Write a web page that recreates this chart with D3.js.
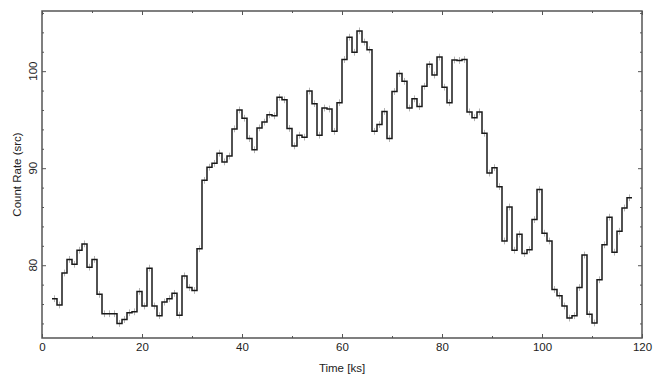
<!DOCTYPE html>
<html>
<head>
<meta charset="utf-8">
<script src="https://cdn.jsdelivr.net/npm/d3@7"></script>
<style>
  body { margin: 0; background: #fff; }
  text { font-family: "Liberation Sans", Arial, sans-serif; }
</style>
</head>
<body>
<div id="canvas"></div>
<script>
"use strict"

/* light curve: 1 ks bins starting at 2 ks */
let binStart = 2;
let binWidth = 1;
let rates = [
  76.55, 75.9, 79.2, 80.6, 80.1, 81.55, 82.2, 79.8, 80.6, 77.0,
  75.0, 75.0, 75.0, 74.0, 74.4, 75.1, 75.2, 77.3, 75.8, 79.7,
  75.8, 74.8, 76.2, 76.55, 77.1, 74.85, 78.9, 77.7, 77.4, 81.7,
  88.75, 90.1, 90.5, 91.55, 90.65, 91.25, 94.05, 96.0, 95.15, 93.05,
  91.9, 94.15, 94.75, 95.5, 95.4, 97.3, 97.05, 94.1, 92.3, 93.4,
  93.2, 97.95, 96.65, 93.4, 96.2, 96.1, 93.8, 96.75, 101.2, 103.5,
  101.95, 104.15, 103.0, 102.2, 93.8, 94.5, 95.85, 93.05, 97.9, 99.75,
  98.95, 96.2, 97.15, 96.35, 98.45, 100.7, 99.6, 101.45, 98.35, 96.75,
  101.15, 101.1, 101.2, 95.8, 95.2, 95.8, 93.6, 89.5, 90.05, 88.1,
  82.5, 86.0, 81.55, 83.2, 81.2, 81.6, 84.7, 87.8, 83.3, 82.5,
  77.5, 76.85, 75.8, 74.55, 74.8, 77.7, 81.05, 74.95, 74.05, 78.5,
  82.1, 84.95, 81.35, 83.5, 85.9, 86.95
];
let rateErr = 0.35;   // roughly the same size on every bin

let xMajor = [0, 20, 40, 60, 80, 100, 120];
let xMinor = [10, 30, 50, 70, 90, 110];
let yMajor = [80, 90, 100];
let yMinor = [74, 76, 78, 82, 84, 86, 88, 92, 94, 96, 98, 102, 104, 106];

let W = 662, H = 385;
let plotL = 42, plotR = 642, plotT = 11, plotB = 338;
let axisCol = "#555";
let textCol = "#222";

let drawing = d3.select("#canvas")
  .append("svg")
  .attr("width", W)
  .attr("height", H);

let x = d3.scaleLinear().domain([0, 120]).range([plotL, plotR]);
let y = d3.scaleLinear().domain([72.5, 106.2]).range([plotB, plotT]);

/* ---------- error bars (light grey) ---------- */
let bins = rates.map((v, i) => ({ t0: binStart + i * binWidth, v: v }));

drawing.append("g")
  .selectAll("line")
  .data(bins)
  .join("line")
  .attr("x1", d => x(d.t0 + binWidth / 2)).attr("x2", d => x(d.t0 + binWidth / 2))
  .attr("y1", d => y(d.v - rateErr)).attr("y2", d => y(d.v + rateErr))
  .attr("stroke", "#b4b4b4").attr("stroke-width", 1);

/* ---------- step line ---------- */
let stepPts = bins.map(d => [d.t0, d.v]);
let last = bins[bins.length - 1];
stepPts.push([last.t0 + binWidth, last.v]);

let stepLine = d3.line()
  .x(d => x(d[0]))
  .y(d => y(d[1]))
  .curve(d3.curveStepAfter);

drawing.append("path")
  .attr("d", stepLine(stepPts))
  .attr("fill", "none")
  .attr("stroke", "#1a1a1a")
  .attr("stroke-width", 1.5);

/* ---------- axes: ticks inward on all four sides ---------- */
function styleAxis(g) {
  g.select(".domain").remove();
  g.selectAll(".tick line").attr("stroke", axisCol).attr("stroke-width", 1);
  g.selectAll("text").attr("fill", textCol).style("font-size", "11.5px")
    .style("font-family", '"Liberation Sans", Arial, sans-serif');
}

drawing.append("g").attr("transform", `translate(0,${plotB})`)
  .call(d3.axisBottom(x).tickValues(xMajor).tickSize(-4).tickPadding(4.5).tickFormat(d3.format("d")))
  .call(styleAxis);
drawing.append("g").attr("transform", `translate(0,${plotB})`)
  .call(d3.axisBottom(x).tickValues(xMinor).tickSize(-2).tickFormat(""))
  .call(styleAxis);
drawing.append("g").attr("transform", `translate(0,${plotT})`)
  .call(d3.axisTop(x).tickValues(xMajor).tickSize(-4).tickFormat(""))
  .call(styleAxis);
drawing.append("g").attr("transform", `translate(0,${plotT})`)
  .call(d3.axisTop(x).tickValues(xMinor).tickSize(-2).tickFormat(""))
  .call(styleAxis);

drawing.append("g").attr("transform", `translate(${plotL},0)`)
  .call(d3.axisLeft(y).tickValues(yMajor).tickSize(-4).tickFormat(""))
  .call(styleAxis);
drawing.append("g").attr("transform", `translate(${plotL},0)`)
  .call(d3.axisLeft(y).tickValues(yMinor).tickSize(-2).tickFormat(""))
  .call(styleAxis);
drawing.append("g").attr("transform", `translate(${plotR},0)`)
  .call(d3.axisRight(y).tickValues(yMajor).tickSize(-4).tickFormat(""))
  .call(styleAxis);
drawing.append("g").attr("transform", `translate(${plotR},0)`)
  .call(d3.axisRight(y).tickValues(yMinor).tickSize(-2).tickFormat(""))
  .call(styleAxis);

/* rotated y tick labels */
drawing.append("g")
  .selectAll("text")
  .data(yMajor)
  .join("text")
  .attr("transform", d => `translate(36.5,${y(d)}) rotate(-90)`)
  .attr("text-anchor", "middle")
  .attr("fill", textCol)
  .style("font-size", "11.5px")
  .text(d => d);

/* frame */
drawing.append("rect")
  .attr("x", plotL).attr("y", plotT)
  .attr("width", plotR - plotL).attr("height", plotB - plotT)
  .attr("fill", "none")
  .attr("stroke", axisCol)
  .attr("stroke-width", 1.5);

/* titles */
drawing.append("text")
  .attr("x", (plotL + plotR) / 2).attr("y", 372)
  .attr("text-anchor", "middle")
  .attr("fill", textCol)
  .style("font-size", "11.5px")
  .text("Time [ks]");

drawing.append("text")
  .attr("transform", `translate(20.5,${(plotT + plotB) / 2}) rotate(-90)`)
  .attr("text-anchor", "middle")
  .attr("fill", textCol)
  .style("font-size", "11.5px")
  .text("Count Rate (src)");
</script>
</body>
</html>
